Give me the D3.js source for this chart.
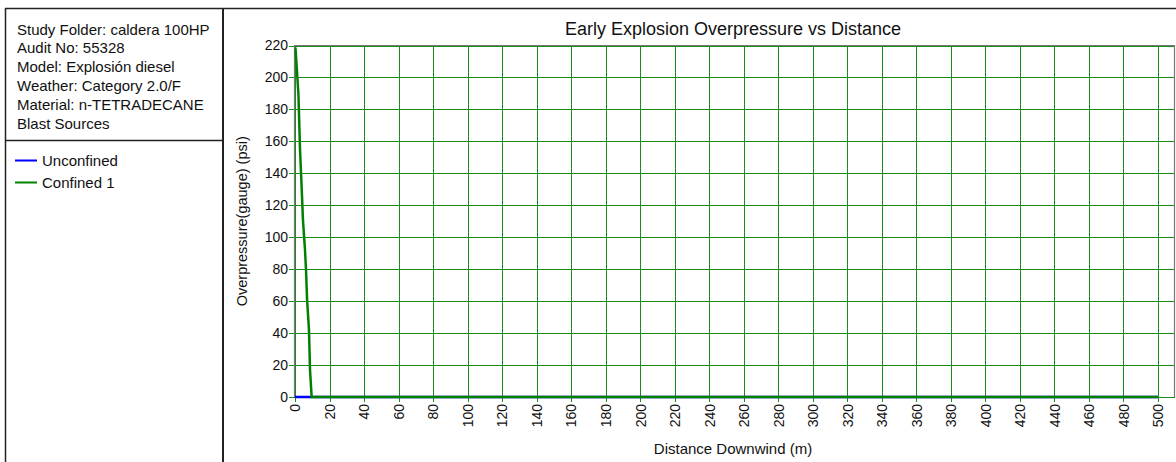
<!DOCTYPE html>
<html>
<head>
<meta charset="utf-8">
<title>Early Explosion Overpressure vs Distance</title>
<style>
  body { margin: 0; background: #fff; }
  svg { display: block; font-family: "Liberation Sans", Arial, sans-serif; }
  .grid line { stroke: #1a8c1a; stroke-width: 1px; shape-rendering: crispEdges; }
  .tick text { fill: #111; }
</style>
</head>
<body>
<div id="chart"></div>
<script src="https://d3js.org/d3.v7.min.js"></script>
<script>
// header text of the left panel
var infoLines = [
  "Study Folder: caldera 100HP",
  "Audit No: 55328",
  "Model: Explosión diesel",
  "Weather: Category 2.0/F",
  "Material: n-TETRADECANE",
  "Blast Sources"
];

var seriesNames  = ["Unconfined", "Confined 1"];
var seriesColors = ["#0000ff", "#008000"];

// Unconfined: stays at zero pressure
var unconfDist = [0, 9.6, 500];
var unconfPsi  = [0, 0, 0];

// Confined 1
var confDist = [0, 0.3, 1.2, 2.0, 2.9, 3.9, 4.6, 5.8, 6.4, 7.0, 8.1, 8.7, 9.6, 9.6, 500];
var confPsi  = [218, 218, 203, 189, 155, 130, 111, 92, 79, 61, 42, 17, 1, 0, 0];

var xTicks = d3.range(0, 501, 20);
var yTicks = d3.range(0, 221, 20);

var W = 1176, H = 462;
var plot = {left: 295, top: 45.5, right: 1175, bottom: 397};

var svg = d3.select("#chart").append("svg")
    .attr("width", W)
    .attr("height", H);

// frame around the whole thing
svg.append("line").attr("x1", 5).attr("x2", W).attr("y1", 8.5).attr("y2", 8.5)
    .attr("stroke", "#222").attr("stroke-width", 1.5);
svg.append("line").attr("x1", 5.5).attr("x2", 5.5).attr("y1", 8).attr("y2", H)
    .attr("stroke", "#222").attr("stroke-width", 1.5);
svg.append("line").attr("x1", 223).attr("x2", 223).attr("y1", 8).attr("y2", H)
    .attr("stroke", "#222").attr("stroke-width", 2);
svg.append("line").attr("x1", 5).attr("x2", 223).attr("y1", 140.5).attr("y2", 140.5)
    .attr("stroke", "#222").attr("stroke-width", 1.5);

// info text
svg.append("g").selectAll("text")
    .data(infoLines)
    .enter().append("text")
    .attr("x", 17)
    .attr("y", function(d, i){ return 34.5 + i * 18.8; })
    .attr("font-size", "15px")
    .attr("fill", "#111")
    .text(function(d){ return d; });

// legend
var leg = svg.append("g").selectAll("g")
    .data(seriesNames)
    .enter().append("g")
    .attr("transform", function(d, i){ return "translate(0," + (160.5 + i * 22) + ")"; });
leg.append("line")
    .attr("x1", 15).attr("x2", 37)
    .attr("stroke", function(d, i){ return seriesColors[i]; })
    .attr("stroke-width", 2);
leg.append("text")
    .attr("x", 42).attr("y", 5.5)
    .attr("font-size", "15px")
    .attr("fill", "#111")
    .text(function(d){ return d; });

var x = d3.scaleLinear().domain([0, 510]).range([plot.left, plot.right]);
var y = d3.scaleLinear().domain([0, 220]).range([plot.bottom, plot.top]);

// grid
var grid = svg.append("g").attr("class", "grid");
grid.selectAll(".vx").data(xTicks).enter().append("line")
    .attr("x1", function(d){ return Math.round(x(d)) + 0.5; })
    .attr("x2", function(d){ return Math.round(x(d)) + 0.5; })
    .attr("y1", plot.top).attr("y2", plot.bottom + 5);
grid.selectAll(".hy").data(yTicks).enter().append("line")
    .attr("x1", plot.left - 6).attr("x2", plot.right)
    .attr("y1", function(d){ return Math.round(y(d)) + 0.5; })
    .attr("y2", function(d){ return Math.round(y(d)) + 0.5; });

// plot border
svg.append("path")
    .attr("d", "M" + (plot.left - 0.5) + "," + plot.bottom + "V" + plot.top + "H" + (plot.right - 0.5) + "V" + plot.bottom)
    .attr("fill", "none").attr("stroke", "#777").attr("stroke-width", 1.2);

// tick labels via d3 axes (grid draws the lines)
var xAxis = svg.append("g")
    .attr("transform", "translate(0," + plot.bottom + ")")
    .call(d3.axisBottom(x).tickValues(xTicks).tickSize(0).tickFormat(d3.format("d")));
xAxis.select(".domain").remove();
xAxis.selectAll("text")
    .attr("transform", "rotate(-90)")
    .attr("text-anchor", "end")
    .attr("x", -7)
    .attr("y", 0)
    .attr("dy", "0.35em")
    .attr("font-size", "14px");

var yAxis = svg.append("g")
    .attr("transform", "translate(" + (plot.left - 7) + ",0)")
    .call(d3.axisLeft(y).tickValues(yTicks).tickSize(0).tickPadding(0).tickFormat(d3.format("d")));
yAxis.select(".domain").remove();
yAxis.selectAll("text").attr("font-size", "14px");

// title and axis titles
svg.append("text")
    .attr("x", 733).attr("y", 35)
    .attr("text-anchor", "middle")
    .attr("font-size", "18px")
    .attr("fill", "#111")
    .text("Early Explosion Overpressure vs Distance");

svg.append("text")
    .attr("x", 733).attr("y", 454)
    .attr("text-anchor", "middle")
    .attr("font-size", "15px")
    .attr("fill", "#111")
    .text("Distance Downwind (m)");

svg.append("text")
    .attr("transform", "translate(247," + ((plot.top + plot.bottom) / 2) + ") rotate(-90)")
    .attr("text-anchor", "middle")
    .attr("font-size", "14.5px")
    .attr("fill", "#111")
    .text("Overpressure(gauge) (psi)");

// series lines
var line = d3.line()
    .x(function(d){ return x(d[0]); })
    .y(function(d){ return y(d[1]); });

svg.append("path")
    .datum(d3.zip(unconfDist, unconfPsi))
    .attr("fill", "none")
    .attr("stroke", seriesColors[0])
    .attr("stroke-width", 2.5)
    .attr("d", line);

svg.append("path")
    .datum(d3.zip(confDist, confPsi))
    .attr("fill", "none")
    .attr("stroke", seriesColors[1])
    .attr("stroke-width", 2.5)
    .attr("d", line);
</script>
</body>
</html>
